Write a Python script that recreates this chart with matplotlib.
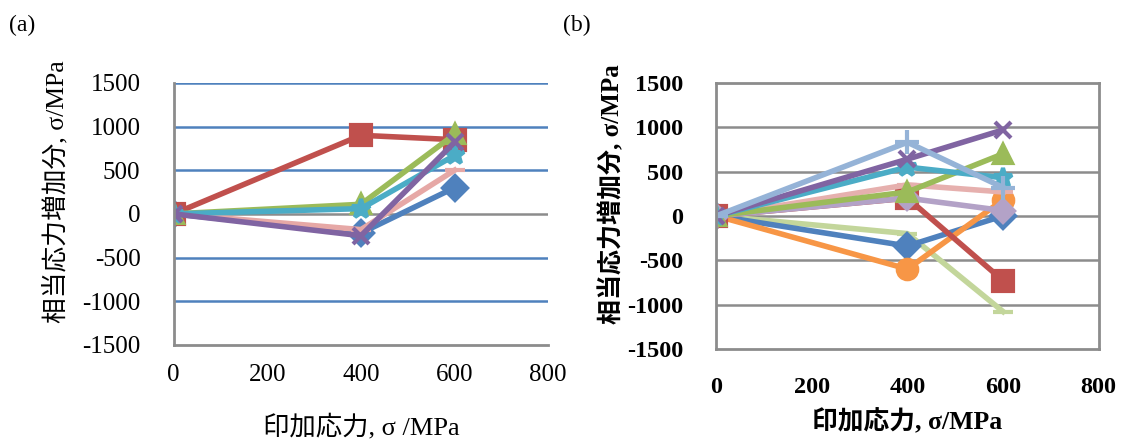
import numpy as np
import matplotlib
matplotlib.use('Agg')
from matplotlib import pyplot as plt

plt.rcParams['axes.unicode_minus'] = False

# 印加応力の点
x_load = [0, 400, 600]

# (a) の系列
a_blue = [0, -220, 300]
a_red = [0, 900, 850]
a_green = [0, 110, 910]
a_purple = [0, -250, 820]
a_cyan = [0, 60, 670]
a_pink = [0, -180, 500]

# (b) の系列
b_blue = [0, -340, 0]
b_red = [0, 200, -730]
b_green = [0, 270, 700]
b_purple = [0, 640, 970]
b_cyan = [0, 550, 430]
b_orange = [0, -600, 180]
b_lightblue = [0, 830, 320]
b_pink = [0, 350, 270]
b_lavender = [0, 200, 60]
b_lightgreen = [0, -200, -1080]

x_ticks = [0, 200, 400, 600, 800]
y_ticks = [-1500, -1000, -500, 0, 500, 1000, 1500]

ylabel = '相当応力増加分, σ/MPa'
xlabel_a = '印加応力, σ /MPa'
xlabel_b = '印加応力, σ/MPa'

FAM = ['Liberation Serif', 'Noto Sans CJK JP']
GRAY = '#8c8c8c'

fig = plt.figure(figsize=(11.28, 4.41), dpi=100)

# ---- (a) ----
ax1 = fig.add_axes([0.154, 0.218, 0.332, 0.594])
series_a = [
    (a_blue, '#4F81BD', 'D', 12),
    (a_pink, '#E6A8A6', '_', 14),
    (a_red, '#C0504D', 's', 14),
    (a_green, '#9BBB59', '^', 13),
    (a_cyan, '#4BACC6', '*', 14),
    (a_purple, '#8064A2', 'x', 12),
]
for y, c, m, ms in series_a:
    ax1.plot(x_load, y, color=c, lw=4, marker=m, ms=ms, mew=3,
             mfc=c, mec=c, solid_joinstyle='round')
ax1.set_xlim(0, 800)
ax1.set_ylim(-1500, 1500)
ax1.set_xticks(x_ticks)
ax1.set_yticks(y_ticks)
for v in [-1000, -500, 500, 1000, 1500]:
    ax1.axhline(v, color='#4F81BD', lw=1.8, zorder=0)
ax1.axhline(0, color=GRAY, lw=1.8, zorder=0)
for s in ['top', 'right']:
    ax1.spines[s].set_visible(False)
for s in ['left', 'bottom']:
    ax1.spines[s].set_color(GRAY)
    ax1.spines[s].set_linewidth(2)
ax1.tick_params(length=0, pad=24, labelsize=18)
ax1.tick_params(axis='x', pad=14)
for t in ax1.get_xticklabels() + ax1.get_yticklabels():
    t.set_family(FAM)
ax1.set_ylabel(ylabel, family=FAM, fontsize=18.5)
ax1.yaxis.set_label_coords(-0.28, 0.585)
ax1.set_xlabel(xlabel_a, family=FAM, fontsize=19, labelpad=20)
fig.text(0.008, 0.93, '(a)', family=FAM, fontsize=17)

# ---- (b) ----
ax2 = fig.add_axes([0.635, 0.209, 0.339, 0.603])
series_b = [
    (b_lightgreen, '#C3D69B', '_', 14),
    (b_blue, '#4F81BD', 'D', 12),
    (b_orange, '#F79646', 'o', 14),
    (b_red, '#C0504D', 's', 14),
    (b_lavender, '#B3A2C7', 'D', 11),
    (b_pink, '#E6B0AE', '_', 14),
    (b_green, '#9BBB59', '^', 13),
    (b_cyan, '#4BACC6', '*', 14),
    (b_purple, '#8064A2', 'x', 12),
    (b_lightblue, '#95B3D7', '+', 17),
]
for y, c, m, ms in series_b:
    ax2.plot(x_load, y, color=c, lw=4, marker=m, ms=ms, mew=3,
             mfc=c, mec=c, solid_joinstyle='round')
ax2.set_xlim(0, 800)
ax2.set_ylim(-1500, 1500)
ax2.set_xticks(x_ticks)
ax2.set_yticks(y_ticks)
for v in [-1000, -500, 0, 500, 1000]:
    ax2.axhline(v, color=GRAY, lw=1.8, zorder=0)
for s in ax2.spines.values():
    s.set_color(GRAY)
    s.set_linewidth(2)
ax2.tick_params(length=0, pad=24, labelsize=17.5)
ax2.tick_params(axis='x', pad=20)
for t in ax2.get_xticklabels() + ax2.get_yticklabels():
    t.set_family(FAM)
    t.set_fontweight('bold')
ax2.set_ylabel(ylabel, family=FAM, fontsize=18, fontweight='bold')
ax2.yaxis.set_label_coords(-0.24, 0.58)
ax2.set_xlabel(xlabel_b, family=FAM, fontsize=18.5, fontweight='bold', labelpad=8)
fig.text(0.499, 0.93, '(b)', family=FAM, fontsize=17)

fig.savefig('out.png', dpi=100)
plt.close()
